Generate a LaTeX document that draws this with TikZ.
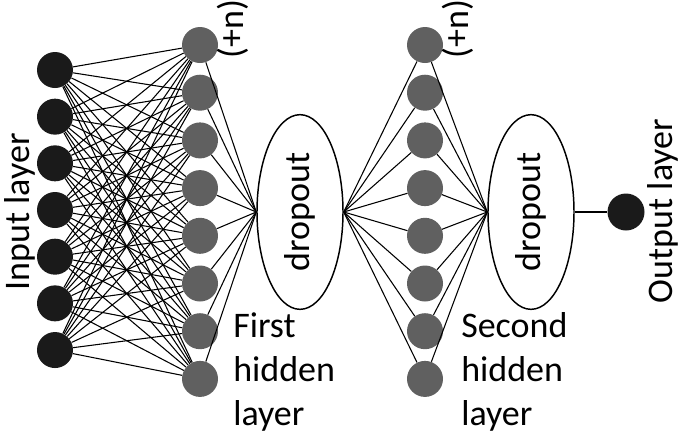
\documentclass[tikz,border=0pt]{standalone}
\usepackage{fontspec}
\setmainfont{Carlito}
\usetikzlibrary{shapes.geometric}
\definecolor{inblack}{HTML}{1A1A1A}
\definecolor{hidgray}{HTML}{606060}
\begin{document}
\begin{tikzpicture}[x=0.75pt,y=-0.75pt,
  inode/.style={circle,fill=inblack,minimum size=27pt,inner sep=0},
  hnode/.style={circle,fill=hidgray,minimum size=27pt,inner sep=0},
  lbl/.style={font=\fontsize{27}{33}\selectfont},
  dropbox/.style={ellipse,draw,line width=1.1pt,minimum width=64.5pt,minimum height=146pt,inner sep=0,lbl},
  conn/.style={line width=0.8pt}]
\useasboundingbox (0,0) rectangle (685,436);
\foreach \i in {1,...,7} \node[inode] (in\i) at (55,{70+46.67*(\i-1)}) {};
\foreach \j in {1,...,8} \node[hnode] (ha\j) at (200,{45+47.7*(\j-1)}) {};
\foreach \j in {1,...,8} \node[hnode] (hb\j) at (425,{45+47.7*(\j-1)}) {};
\node[dropbox] (d1) at (300,212) {\rotatebox{90}{dropout}};
\node[dropbox] (d2) at (531,212) {\rotatebox{90}{dropout}};
\node[inode,minimum size=27.75pt] (out) at (626,212) {};
\foreach \i in {1,...,7}
  \foreach \j in {1,...,8}
    \draw[conn] (in\i) -- (ha\j);
\foreach \j in {1,...,8} {
  \draw[conn] (ha\j) -- (d1.west);
  \draw[conn] (d1.east) -- (hb\j);
  \draw[conn] (hb\j) -- (d2.west);
}
\draw[conn] (d2) -- (out);
\node[lbl,rotate=90] (inlbl) at (20,212) {Input layer};
\node[lbl,rotate=90] (outlbl) at (663,211) {Output layer};
\node[lbl,rotate=90] (n1) at (233,29) {(+n)};
\node[lbl,rotate=90] (n2) at (458,29) {(+n)};
\node[lbl,align=left,anchor=north west,inner sep=0] (fh) at (233,312) {First\\hidden\\layer};
\node[lbl,align=left,anchor=north west,inner sep=0] (sh) at (461,312) {Second\\hidden\\layer};
\end{tikzpicture}
\end{document}
